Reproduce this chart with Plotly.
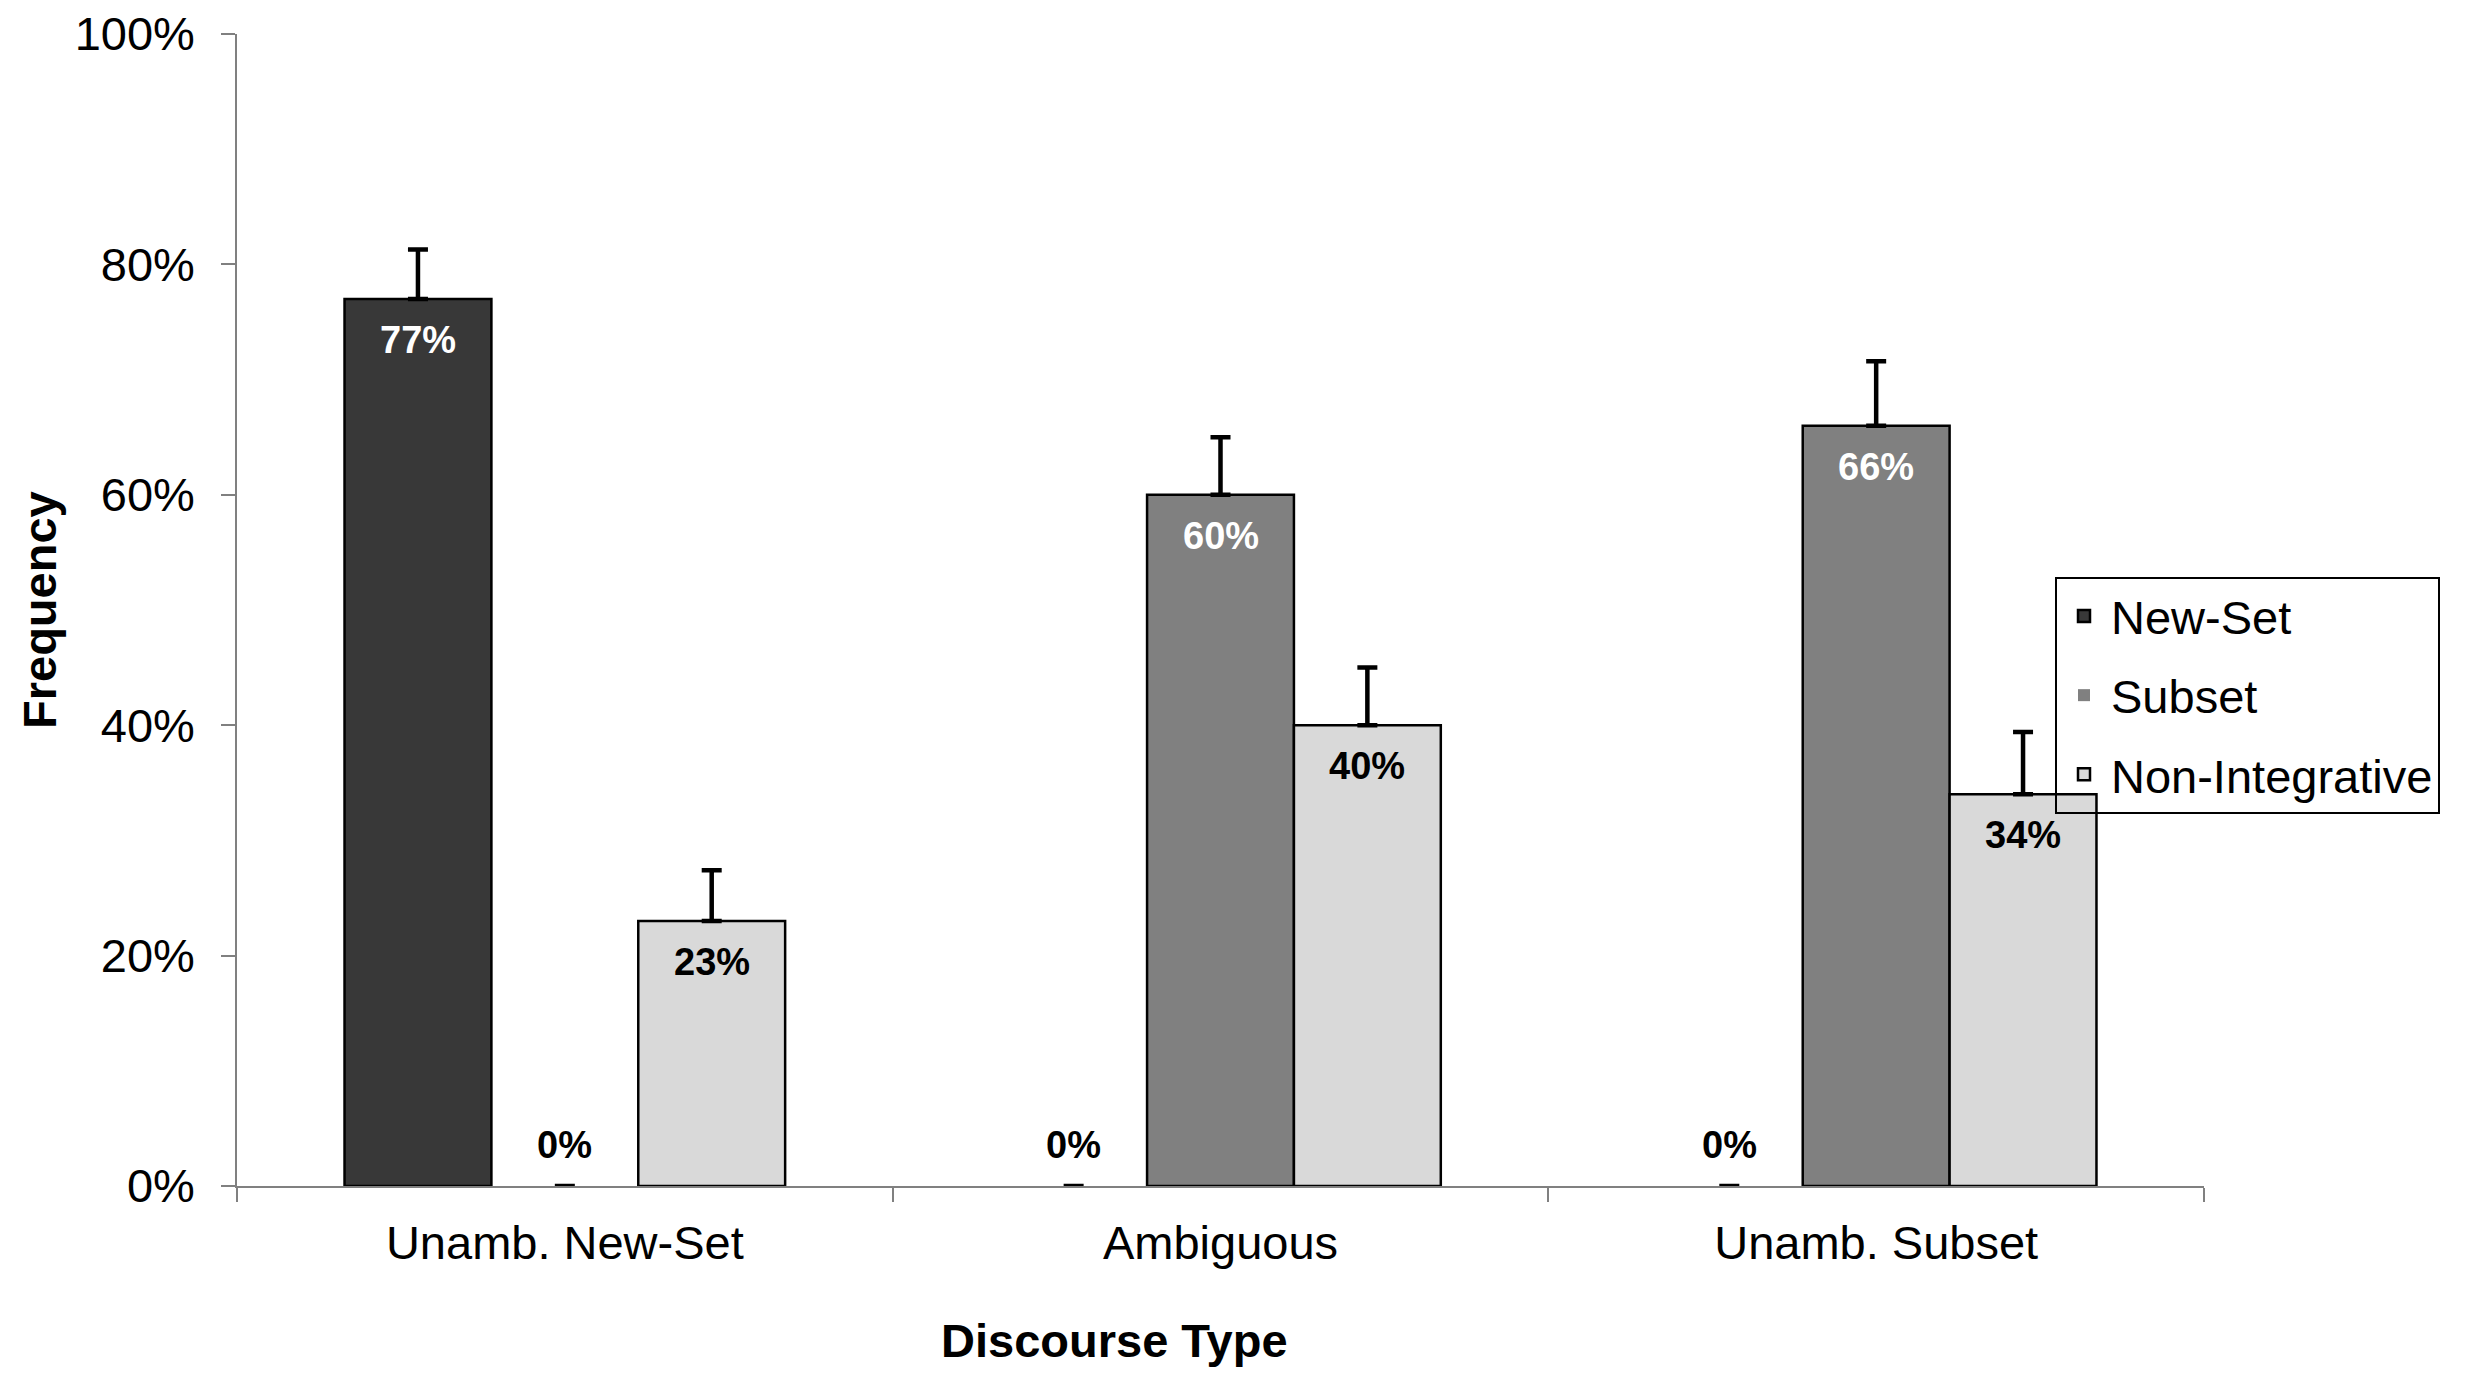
import plotly.graph_objects as go

# ---- data ----
categories = ["Unamb. New-Set", "Ambiguous", "Unamb. Subset"]
series_names = ["New-Set", "Subset", "Non-Integrative"]
new_set = [77, 0, 0]
subset = [0, 60, 66]
non_integrative = [23, 40, 34]
new_set_err = [4.3, 0, 0]
subset_err = [0, 5.0, 5.6]
non_integrative_err = [4.4, 5.0, 5.4]
y_tick_vals = [0, 20, 40, 60, 80, 100]
y_tick_text = ["0%", "20%", "40%", "60%", "80%", "100%"]

values = [new_set, subset, non_integrative]
errors = [new_set_err, subset_err, non_integrative_err]
colors = ["#383838", "#808080", "#d9d9d9"]
label_colors = ["white", "white", "black"]

FONT = "Liberation Sans, Arial, Helvetica, sans-serif"
OFF = 8  # page body margin
W, H = 2468 - OFF, 1383 - OFF
# plot area in page pixels
PX0, PX1, PY0, PY1 = 237, 2204, 34, 1186
L, T = PX0 - OFF, PY0 - OFF
R, B = W - (PX1 - OFF), H - (PY1 - OFF)
pw, ph = PX1 - PX0, PY1 - PY0

bargap = 0.328
xs = list(range(len(categories)))

fig = go.Figure()
for j, name in enumerate(series_names):
    fig.add_trace(go.Bar(
        x=xs, y=values[j], name=name, legendgroup=name,
        marker=dict(color=colors[j],
                    line=dict(color="black", width=[2.5 if v > 0 else 0 for v in values[j]])),
        error_y=dict(type="data", array=errors[j], symmetric=False,
                     arrayminus=[0] * len(xs), color="black",
                     thickness=4.5, width=10),
    ))

# data labels
n = len(series_names)
bw = (1 - bargap) / n
annotations = []
for j in range(n):
    for i, v in enumerate(values[j]):
        xpos = i + (j - (n - 1) / 2) * bw
        annotations.append(dict(
            x=xpos, y=v, xref="x", yref="y", text="<b>%d%%</b>" % v,
            showarrow=False, yshift=41 if v == 0 else -41, yanchor="middle",
            font=dict(family=FONT, size=38, color="black" if v == 0 else label_colors[j])))

annotations.append(dict(x=(39 - PX0) / pw, y=0.5, xref="paper", yref="paper",
                        text="<b>Frequency</b>", textangle=-90, showarrow=False,
                        xanchor="center", yanchor="middle",
                        font=dict(family=FONT, size=47, color="black")))
annotations.append(dict(x=(1114 - PX0) / pw, y=-(1340 - PY1) / ph, xref="paper", yref="paper",
                        text="<b>Discourse Type</b>", showarrow=False,
                        xanchor="center", yanchor="middle",
                        font=dict(family=FONT, size=47, color="black")))

fig.update_layout(
    width=W, height=H,
    margin=dict(l=L, r=R, t=T, b=B, pad=0, autoexpand=False),
    paper_bgcolor="white", plot_bgcolor="white",
    barmode="group", bargap=bargap, bargroupgap=0,
    font=dict(family=FONT, size=47, color="black"),
    showlegend=True,
    legend=dict(x=(2055 - PX0) / pw, y=(PY1 - 577) / ph, xanchor="left", yanchor="top",
                bordercolor="black", borderwidth=2, bgcolor="rgba(0,0,0,0)",
                font=dict(family=FONT, size=47, color="black"),
                itemwidth=44,
                traceorder="grouped", tracegroupgap=15),
    annotations=annotations,
)
fig.update_xaxes(
    range=[-0.5, 2.5], tickvals=xs, ticktext=categories, ticks="",
    showline=True, linecolor="#808080", linewidth=1.5,
    showgrid=False, zeroline=False, automargin=False,
    tickfont=dict(family=FONT, size=47, color="black"),
    ticklabelstandoff=15, ticklabeloverflow="allow",
    minor=dict(tickvals=[-0.5, 0.5, 1.5, 2.5], ticks="outside", ticklen=14,
               tickcolor="#808080", tickwidth=1.5, showgrid=False),
)
fig.update_yaxes(
    range=[0, 100], tickvals=y_tick_vals, ticktext=y_tick_text,
    ticks="outside", ticklen=14, tickcolor="#808080", tickwidth=1.5,
    showline=True, linecolor="#808080", linewidth=1.5,
    showgrid=False, zeroline=False, automargin=False,
    tickfont=dict(family=FONT, size=47, color="black"),
    ticklabelstandoff=17, ticklabeloverflow="allow",
)

fig.write_html("out.html")
